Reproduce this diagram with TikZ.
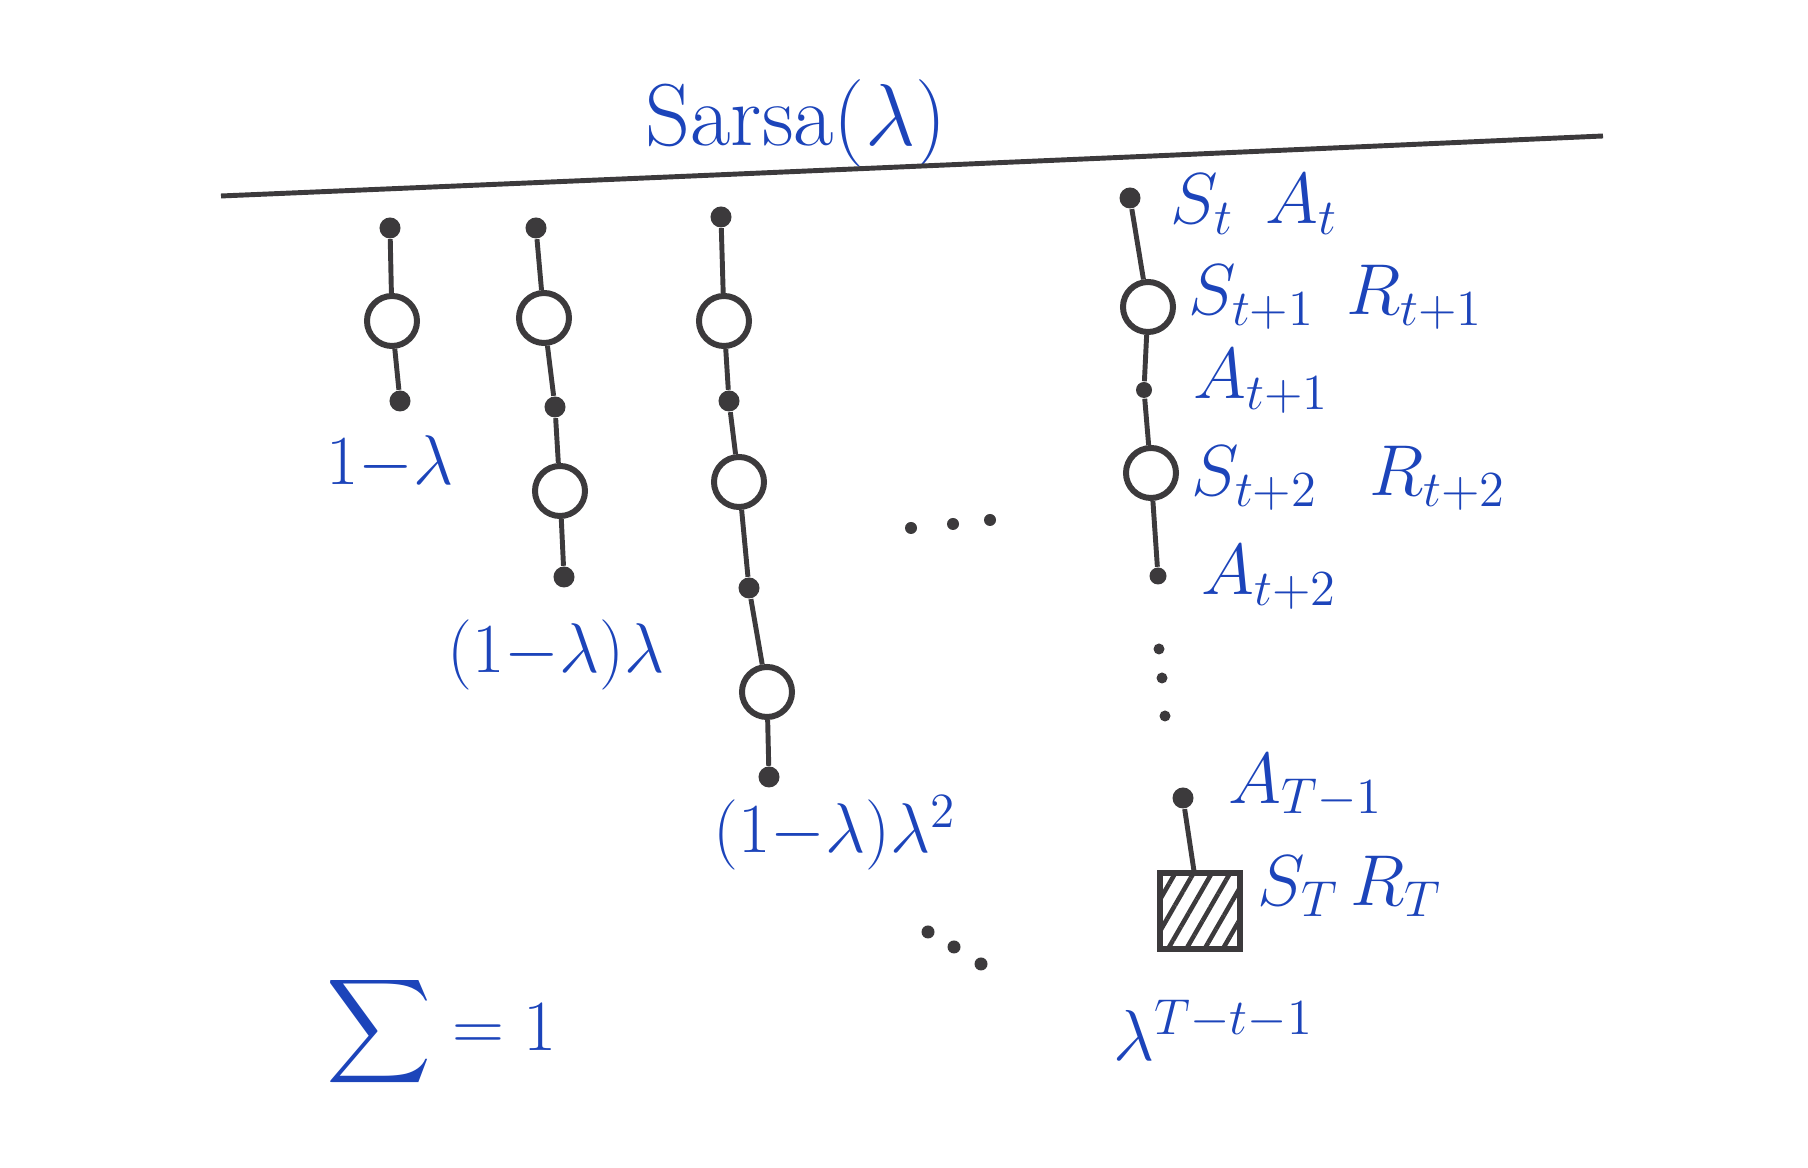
\RequirePackage{fix-cm}
\documentclass[tikz,border=0pt]{standalone}
\usepackage{amsmath}
\usetikzlibrary{patterns.meta}
\definecolor{inkblue}{RGB}{28,68,186}
\definecolor{pencilgray}{RGB}{60,58,60}
\tikzset{
	state/.style={circle,draw=\PENCIL,line width=1.7pt,fill=white,minimum size=0.5cm,inner sep=0pt},
	action/.style={circle,fill=\PENCIL,minimum size=0.21cm,inner sep=0pt},
	terminal/.style={rectangle,draw=\PENCIL,line width=1.7pt,minimum width=0.8cm,minimum height=0.75cm,
		pattern={Lines[angle=60,distance=4.5pt,line width=1.3pt]},pattern color=\PENCIL},
	link/.style={draw=\PENCIL,line width=1.4pt},
	lbl/.style={text=\INK,font=\fontsize{20.5}{25}\selectfont,anchor=west,inner sep=0pt},
	weight/.style={lbl,font=\fontsize{20}{24}\selectfont},
}
\begin{document}
\begin{tikzpicture}[x=0.01cm,y=-0.01cm]

\def\INK{inkblue}
\def\PENCIL{pencilgray}
	\useasboundingbox (0,0) rectangle (1808,1168);
	\node[lbl,font=\fontsize{25}{30}\selectfont,anchor=center] (title) at (796,124) {Sarsa($\lambda$)};
	\draw[link] (221,196) -- (692,176) -- (1153,156) -- (1603,136);

	\node[action] (c1a0) at (390,228) {};
	\node[state]  (c1s1) at (392,321) {};
	\node[action] (c1a1) at (400,401) {};
	\draw[link] (c1a0) -- (c1s1) -- (c1a1);
	\node[weight] (w1) at (326,463) {$1{-}\lambda$};

	\node[action] (c2a0) at (536,228) {};
	\node[state]  (c2s1) at (544,318) {};
	\node[action] (c2a1) at (555,407) {};
	\node[state]  (c2s2) at (560,491) {};
	\node[action] (c2a2) at (564,577) {};
	\draw[link] (c2a0) -- (c2s1) -- (c2a1) -- (c2s2) -- (c2a2);
	\node[weight] (w2) at (447,655) {$(1{-}\lambda)\lambda$};

	\node[action] (c3a0) at (721,217) {};
	\node[state]  (c3s1) at (724,321) {};
	\node[action] (c3a1) at (729,401) {};
	\node[state]  (c3s2) at (739,482) {};
	\node[action] (c3a2) at (749,588) {};
	\node[state]  (c3s3) at (767,692) {};
	\node[action] (c3a3) at (769,777) {};
	\draw[link] (c3a0) -- (c3s1) -- (c3a1) -- (c3s2) -- (c3a2) -- (c3s3) -- (c3a3);
	\node[weight] (w3) at (713,833) {$(1{-}\lambda)\lambda^2$};

	\fill[\PENCIL] (911,528) circle (0.06cm);
	\fill[\PENCIL] (953,524) circle (0.06cm);
	\fill[\PENCIL] (990,520) circle (0.06cm);

	\node[action] (c4a0) at (1130,198) {};
	\node[state]  (c4s1) at (1148,307) {};
	\node[action,minimum size=0.16cm] (c4a1) at (1144,390) {};
	\node[state]  (c4s2) at (1151,473) {};
	\node[action,minimum size=0.17cm] (c4a2) at (1158,576) {};
	\draw[link] (c4a0) -- (c4s1) -- (c4a1) -- (c4s2) -- (c4a2);
	\fill[\PENCIL] (1159,649) circle (0.055cm);
	\fill[\PENCIL] (1162,678) circle (0.055cm);
	\fill[\PENCIL] (1165,716) circle (0.055cm);
	\node[action] (c4aT) at (1183,798) {};
	\node[terminal] (c4sT) at (1200,911) {};
	\draw[link] (c4aT) -- (c4sT);

	\node[lbl] (l0) at (1170,204) {$S_t\;\, A_t$};
	\node[lbl] (l1) at (1188,297) {$S_{t+1}\;\, R_{t+1}$};
	\node[lbl] (l2) at (1193,381) {$A_{t+1}$};
	\node[lbl] (l3) at (1191,478) {$S_{t+2}\;\;\, R_{t+2}$};
	\node[lbl] (l4) at (1201,577) {$A_{t+2}$};
	\node[lbl] (l5) at (1228,786) {$A_{T-1}$};
	\node[lbl] (l6) at (1257,886) {$S_T\, R_T$};
	\node[lbl] (w4) at (1113,1030) {$\lambda^{T-t-1}$};

	\fill[\PENCIL] (928,932) circle (0.065cm);
	\fill[\PENCIL] (954,947) circle (0.065cm);
	\fill[\PENCIL] (981,964) circle (0.065cm);

	\node[lbl] (total) at (326,1032) {$\displaystyle\sum = 1$};

          \end{tikzpicture}
\end{document}
